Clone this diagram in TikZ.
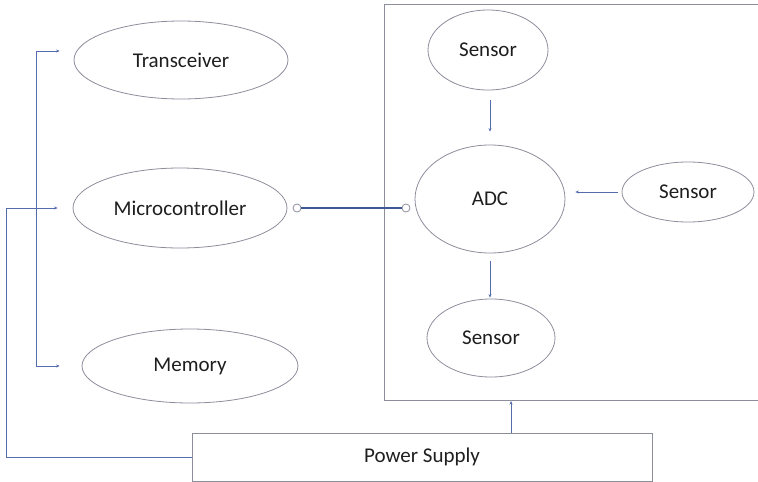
\documentclass[tikz,border=0pt]{standalone}
\usepackage{fontspec}
\setmainfont{Carlito}
\usetikzlibrary{arrows.meta,shapes.geometric}
\definecolor{linec}{RGB}{84,108,172}
\definecolor{darkline}{RGB}{60,88,150}
\definecolor{ellc}{RGB}{140,142,155}
\definecolor{txtc}{RGB}{30,30,30}
\begin{document}
\begin{tikzpicture}[x=1pt,y=-1pt,
  ell/.style={ellipse,draw=ellc,line width=0.8pt,inner sep=0pt,text=txtc,font=\fontsize{21}{25}\selectfont},
  conn/.style={draw=linec,line width=0.8pt},
  arr/.style={conn,-{Stealth[length=3.5pt,width=3pt]}},
  port/.style={circle,draw=ellc,fill=white,line width=0.8pt,inner sep=0pt,minimum size=8pt}]
\useasboundingbox (0,0) rectangle (758,482);
% left side
\node[ell,minimum width=214pt,minimum height=78pt] (trans) at (181,60) {Transceiver};
\node[ell,minimum width=214pt,minimum height=80pt] (micro) at (180,208) {Microcontroller};
\node[ell,minimum width=216pt,minimum height=74pt] (mem) at (190,366) {Memory};
% box
\coordinate (btl) at (384,4);
\coordinate (bbl) at (384,400);
\coordinate (btr) at (760,4);
\coordinate (bbr) at (760,400);
\draw[draw=ellc,line width=0.9pt] (btr) -- (btl) -- (bbl) -- (bbr);
\coordinate (boxb) at (511,401);
% right side
\node[ell,minimum width=120pt,minimum height=80pt] (s1) at (488,50) {Sensor};
\node[ell,minimum width=150pt,minimum height=108pt] (adc) at (490,199) {ADC};
\node[ell,minimum width=132pt,minimum height=60pt] (s2) at (688,192) {Sensor};
\node[ell,minimum width=128pt,minimum height=78pt] (s3) at (491,338) {Sensor};
% power
\node[draw=ellc,line width=0.9pt,minimum width=460pt,minimum height=48pt,inner sep=0pt,text=txtc,font=\fontsize{21}{25}\selectfont] (ps) at (422,457) {Power Supply};
% ports
\node[port] (p1) at (297,208) {};
\node[port] (p2) at (406,208) {};
\draw[draw=darkline,line width=1.3pt] (p1) -- (p2);
% bus
\coordinate (bt) at (36,51);
\coordinate (bb) at (36,366);
\draw[conn] (bt) -- (bb);
\draw[arr,shorten >=14pt] (bt) -- (trans.west |- bt);
\draw[arr,shorten >=22pt] (bb) -- (mem.west);
% power to micro
\coordinate (pl) at (6,457);
\coordinate (pm) at (6,208);
\draw[arr,shorten >=15pt] (ps.west) -- (pl) -- (pm) -- (micro.west);
% power to box
\draw[arr] (ps.north -| boxb) -- (boxb);
% sensor arrows
\draw[arr,shorten <=10pt,shorten >=13pt] (s1.south -| adc.north) -- (adc.north);
\draw[arr,shorten <=4pt,shorten >=10pt] (s2.west) -- (adc.east |- s2.west);
\draw[arr,shorten <=8pt,shorten >=1pt] (adc.south) -- (s3.north -| adc.south);
\end{tikzpicture}
\end{document}
